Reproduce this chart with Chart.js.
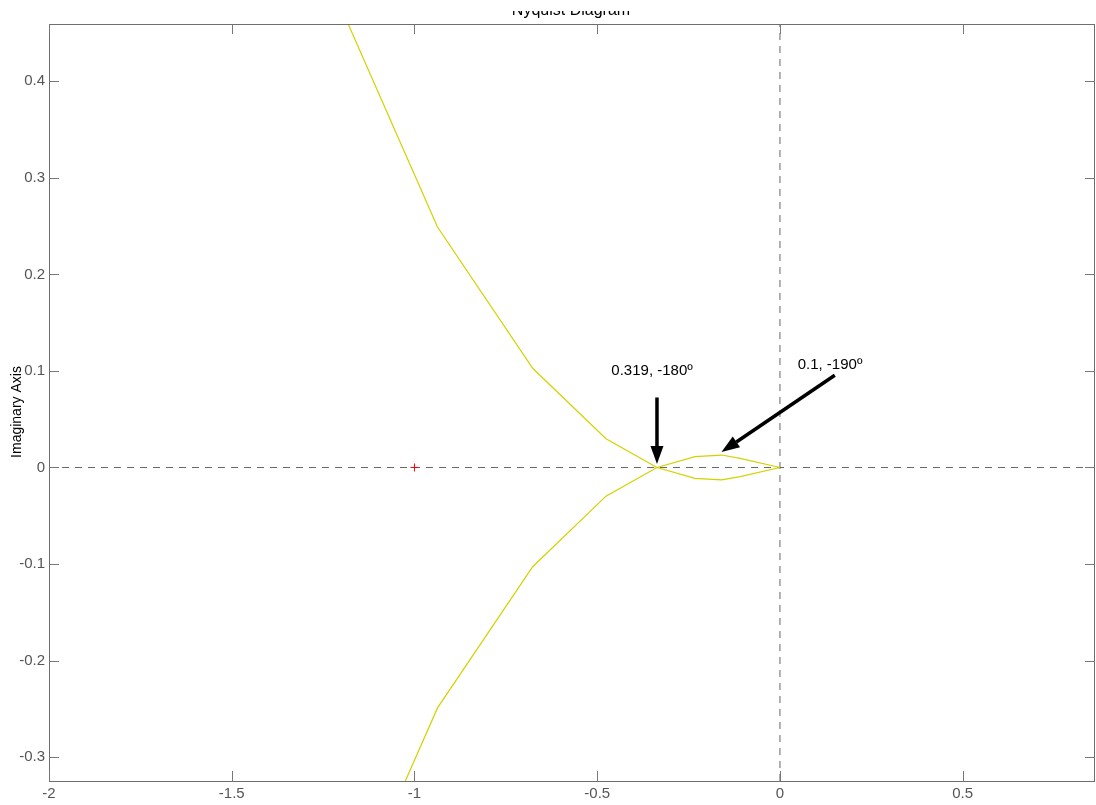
<!DOCTYPE html>
<html>
<head>
<meta charset="utf-8">
<script src="https://cdn.jsdelivr.net/npm/chart.js@4"></script>
<style>
  html, body { margin: 0; padding: 0; background: #fff; }
  #wrap { width: 1096px; height: 805px; }
</style>
</head>
<body>
<div id="wrap"><canvas id="c"></canvas></div>
<script>
// Nyquist curve, positive frequencies (real / imaginary parts)
const reW = [-1.345, -0.937, -0.676, -0.476, -0.3365, -0.2326, -0.1595, -0.109, 0];
const imW = [-0.600, -0.249, -0.1025, -0.0297, 0, 0.0112, 0.0129, 0.0095, 0];

const xTicks = [-2, -1.5, -1, -0.5, 0, 0.5];
const yTicks = [-0.3, -0.2, -0.1, 0, 0.1, 0.2, 0.3, 0.4];

const critical = [{ x: -1, y: 0 }];

const notes = ['0.319, -180º', '0.1, -190º'];

const X_MIN = -2, X_MAX = 0.862;
const Y_MIN = -0.3247, Y_MAX = 0.4593;

const posBranch = reW.map((r, i) => ({ x: r, y: imW[i] }));
const negBranch = reW.map((r, i) => ({ x: r, y: -imW[i] }));

// annotation placement in data units
const noteText = [
  { x: -0.350, y: 0.100 },
  { x: 0.137, y: 0.106 }
];
const noteArrows = [
  { x0: -0.3365, y0: 0.0725, x1: -0.3365, y1: 0.0035 },
  { x0: 0.150, y0: 0.0955, x1: -0.160, y1: 0.016 }
];

function drawArrow(ctx, x0, y0, x1, y1) {
  const ang = Math.atan2(y1 - y0, x1 - x0);
  const headLen = 18, headW = 6.5;
  const bx = x1 - headLen * Math.cos(ang), by = y1 - headLen * Math.sin(ang);
  ctx.strokeStyle = '#000';
  ctx.lineWidth = 3.5;
  ctx.beginPath();
  ctx.moveTo(x0, y0);
  ctx.lineTo(bx, by);
  ctx.stroke();
  ctx.fillStyle = '#000';
  ctx.beginPath();
  ctx.moveTo(x1, y1);
  ctx.lineTo(bx + headW * Math.sin(ang), by - headW * Math.cos(ang));
  ctx.lineTo(bx - headW * Math.sin(ang), by + headW * Math.cos(ang));
  ctx.closePath();
  ctx.fill();
}

const framePlugin = {
  id: 'frame',
  afterDraw(chart) {
    const ctx = chart.ctx;
    const a = chart.chartArea;
    const xs = chart.scales.x, ys = chart.scales.y;
    ctx.save();

    // axes box
    ctx.strokeStyle = '#6e6e6e';
    ctx.lineWidth = 1;
    ctx.strokeRect(Math.round(a.left) + 0.5, Math.round(a.top) + 0.5,
      Math.round(a.right - a.left) - 1, Math.round(a.bottom - a.top));

    // inward ticks, all four sides
    ctx.strokeStyle = '#777';
    ctx.beginPath();
    xTicks.forEach(v => {
      const px = Math.round(xs.getPixelForValue(v)) + 0.5;
      ctx.moveTo(px, a.top); ctx.lineTo(px, a.top + 10);
      ctx.moveTo(px, a.bottom); ctx.lineTo(px, a.bottom - 10);
    });
    yTicks.forEach(v => {
      const py = Math.round(ys.getPixelForValue(v)) + 0.5;
      ctx.moveTo(a.left, py); ctx.lineTo(a.left + 10, py);
      ctx.moveTo(a.right, py); ctx.lineTo(a.right - 10, py);
    });
    ctx.stroke();

    // tick labels
    ctx.fillStyle = '#555';
    ctx.font = '15px "Liberation Sans", Arial, sans-serif';
    ctx.textAlign = 'center';
    ctx.textBaseline = 'middle';
    xTicks.forEach(v => {
      ctx.fillText(String(v), xs.getPixelForValue(v), a.bottom + 13);
    });
    ctx.textAlign = 'right';
    yTicks.forEach(v => {
      ctx.fillText(String(v), a.left - 4, ys.getPixelForValue(v));
    });

    // axis label
    ctx.fillStyle = '#000';
    ctx.font = '14px "Liberation Sans", Arial, sans-serif';
    ctx.save();
    ctx.translate(17, 412);
    ctx.rotate(-Math.PI / 2);
    ctx.textAlign = 'center';
    ctx.fillText('Imaginary Axis', 0, 0);
    ctx.restore();

    // title, cut off at the top like the reference
    ctx.save();
    ctx.beginPath();
    ctx.rect(0, 11, chart.width, 12);
    ctx.clip();
    ctx.font = '16px "Liberation Sans", Arial, sans-serif';
    ctx.textAlign = 'center';
    ctx.textBaseline = 'alphabetic';
    ctx.fillText('Nyquist Diagram', 571, 14.5);
    ctx.restore();

    // annotations
    ctx.font = '15px "Liberation Sans", Arial, sans-serif';
    ctx.textAlign = 'center';
    ctx.textBaseline = 'middle';
    notes.forEach((t, i) => {
      ctx.fillStyle = '#000';
      ctx.fillText(t, xs.getPixelForValue(noteText[i].x), ys.getPixelForValue(noteText[i].y));
      const ar = noteArrows[i];
      drawArrow(ctx, xs.getPixelForValue(ar.x0), ys.getPixelForValue(ar.y0),
        xs.getPixelForValue(ar.x1), ys.getPixelForValue(ar.y1));
    });

    ctx.restore();
  }
};

const ctx = document.getElementById('c');
new Chart(ctx, {
  type: 'scatter',
  data: {
    datasets: [
      {
        label: 'w>0',
        data: posBranch,
        showLine: true,
        borderColor: '#d2d200',
        borderWidth: 1.2,
        pointRadius: 0,
        tension: 0
      },
      {
        label: 'w<0',
        data: negBranch,
        showLine: true,
        borderColor: '#d2d200',
        borderWidth: 1.2,
        pointRadius: 0,
        tension: 0
      },
      {
        label: 'real axis',
        data: [{ x: X_MIN, y: 0 }, { x: X_MAX, y: 0 }],
        showLine: true,
        borderColor: '#666',
        borderWidth: 1,
        borderDash: [7, 6],
        pointRadius: 0,
        order: 5
      },
      {
        label: 'imag axis',
        data: [{ x: 0, y: Y_MIN }, { x: 0, y: Y_MAX }],
        showLine: true,
        borderColor: '#666',
        borderWidth: 1,
        borderDash: [7, 6],
        pointRadius: 0,
        order: 5
      },
      {
        label: '-1',
        data: critical,
        pointStyle: 'cross',
        pointRadius: 4,
        borderColor: '#ff0000',
        borderWidth: 1,
        order: -1
      }
    ]
  },
  options: {
    responsive: true,
    maintainAspectRatio: false,
    animation: false,
    layout: { autoPadding: false, padding: { left: 49, top: 24, right: 1, bottom: 24 } },
    plugins: {
      legend: { display: false },
      tooltip: { enabled: false },
      title: { display: false }
    },
    scales: {
      x: { type: 'linear', min: X_MIN, max: X_MAX, display: false },
      y: { type: 'linear', min: Y_MIN, max: Y_MAX, display: false }
    }
  },
  plugins: [framePlugin]
});
</script>
</body>
</html>
